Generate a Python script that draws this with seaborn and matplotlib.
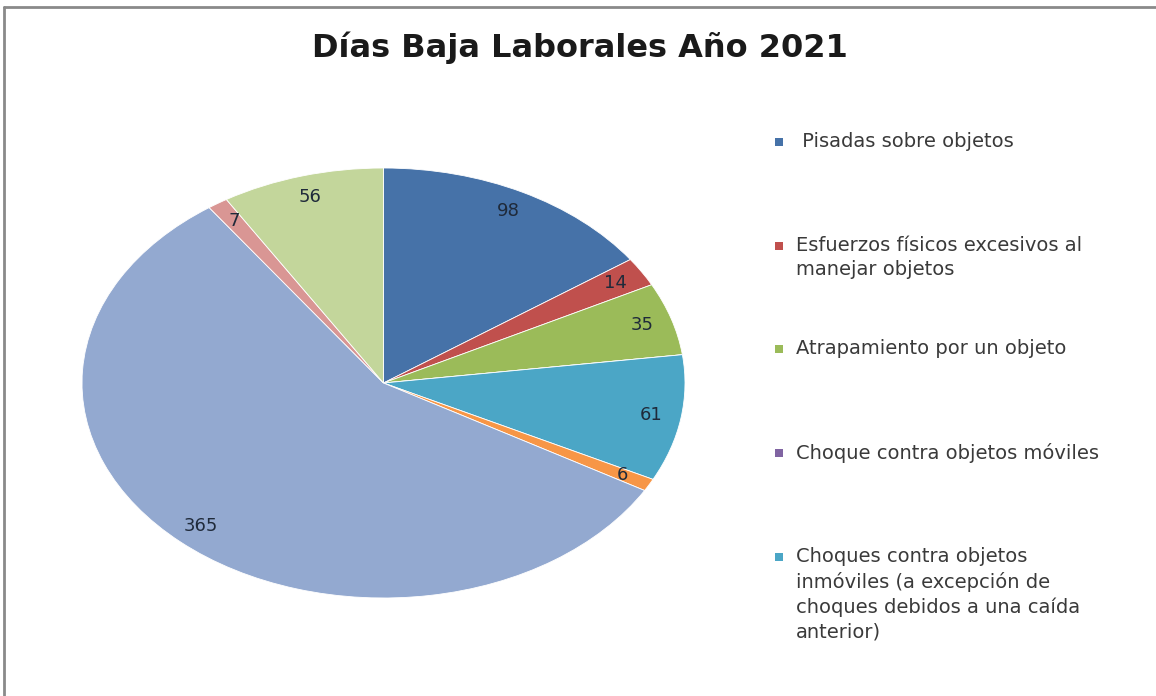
import numpy as np
import matplotlib
matplotlib.use("Agg")
import matplotlib.pyplot as plt
import seaborn as sns
from matplotlib.patches import Rectangle
from matplotlib.lines import Line2D

# ---------------- data ----------------
title = "Días Baja Laborales Año 2021"
values = [98, 14, 35, 0, 61, 6, 365, 7, 56]
colors = ["#4672A8", "#C0504D", "#9BBB59", "#8064A2", "#4BA6C6",
          "#F79646", "#93A9D0", "#D99694", "#C3D69B"]
legend_labels = [
    " Pisadas sobre objetos",
    "Esfuerzos físicos excesivos al\nmanejar objetos",
    "Atrapamiento por un objeto",
    "Choque contra objetos móviles",
    "Choques contra objetos\ninmóviles (a excepción de\nchoques debidos a una caída\nanterior)",
]

# ---------------- style ----------------
sns.set_theme(style="white")
plt.rcParams["font.family"] = ["DejaVu Sans"]

W, H = 1156, 696
fig = plt.figure(figsize=(W / 100, H / 100), dpi=100)
fig.patch.set_facecolor("white")

def fx(px):
    return px / W

def fy(py):
    return 1 - py / H

# pie axes (elliptical, like the stretched reference)
cx, cy, rx, ry = 383.5, 383, 301.5, 215
ax = fig.add_axes([fx(cx - rx), fy(cy + ry), 2 * rx / W, 2 * ry / H])
total = sum(values)

def fmt(p):
    v = int(round(p * total / 100.0))
    return f"{v}" if v > 0 else ""

wedges, texts, autotexts = ax.pie(
    values, colors=colors, startangle=90, counterclock=False,
    autopct=fmt, pctdistance=0.9,
    wedgeprops=dict(edgecolor="white", linewidth=0.6),
    textprops=dict(fontsize=13, color="#1f2a3a"),
)
ax.set_aspect("auto")
ax.set_xlim(-1, 1)
ax.set_ylim(-1, 1)
ax.axis("off")

# title
fig.text(fx(580), fy(48), title, ha="center", va="center",
         fontsize=23, fontweight="bold", color="#1a1a1a")

# legend (Excel-style, evenly distributed entries)
step = 103.7
for i, lab in enumerate(legend_labels):
    yc = 142 + i * step
    fig.patches.append(Rectangle((fx(775), fy(yc + 4)), 8 / W, 8 / H,
                                 transform=fig.transFigure, figure=fig,
                                 facecolor=colors[i], edgecolor="none"))
    fig.text(fx(796), fy(yc - 10), lab, ha="left", va="top",
             fontsize=14, color="#3a3a3a", linespacing=1.36)

# outer chart-area border (left and top visible)
fig.add_artist(Line2D([fx(4), fx(4)], [fy(7), 0], transform=fig.transFigure,
                      color="#8a8a8a", linewidth=2))
fig.add_artist(Line2D([fx(4), 1], [fy(7), fy(7)], transform=fig.transFigure,
                      color="#8a8a8a", linewidth=2))

fig.savefig("out.png", dpi=100, facecolor="white")
